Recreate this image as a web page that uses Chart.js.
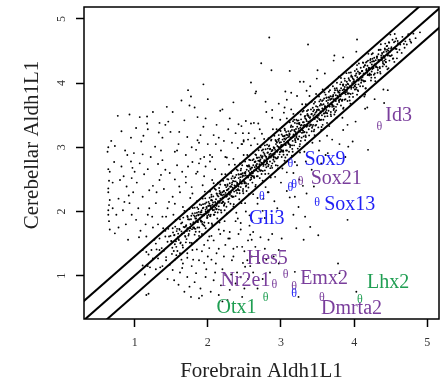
<!DOCTYPE html>
<html>
<head>
<meta charset="utf-8">
<script src="https://cdn.jsdelivr.net/npm/chart.js@4.4.0/dist/chart.umd.min.js"></script>
<style>
  html, body { margin: 0; padding: 0; background: #fff; }
  #wrap { width: 443px; height: 385px; }
</style>
</head>
<body>
<div id="wrap"><canvas id="scatter" width="443" height="385"></canvas></div>
<script>
// Probe expression values: [forebrain, cerebellar]
const diagonalBand = [
  [1.11,1.16],[1.14,1.02],[1.16,1.37],[1.18,1.15],[1.19,1.33],
  [1.21,1.13],[1.23,1.40],[1.25,1.27],[1.27,1.56],[1.29,1.10],
  [1.30,1.41],[1.32,1.27],[1.34,1.58],[1.35,1.13],[1.37,1.43],[1.39,1.74],
  [1.40,1.39],[1.42,1.61],[1.43,1.29],[1.45,1.53],[1.46,1.73],[1.48,1.17],[1.49,1.62],
  [1.50,1.54],[1.51,1.34],[1.52,1.74],[1.54,1.63],[1.55,1.49],[1.56,1.87],[1.57,1.32],[1.58,1.73],[1.59,1.60],[1.53,1.95],
  [1.60,1.57],[1.61,1.73],[1.62,1.88],[1.63,1.52],[1.64,1.69],[1.65,1.83],[1.66,1.44],[1.67,1.76],[1.68,2.01],[1.69,1.62],[1.64,1.25],
  [1.70,1.77],[1.71,1.57],[1.72,1.93],[1.72,1.74],[1.73,1.88],[1.74,1.65],[1.75,2.04],[1.76,1.74],[1.77,1.88],[1.78,1.51],[1.79,1.97],[1.76,2.21],
  [1.80,1.75],[1.81,1.94],[1.82,2.06],[1.82,1.64],[1.83,1.89],[1.84,1.85],[1.85,2.16],[1.86,1.75],[1.87,2.04],[1.87,1.95],[1.88,1.62],[1.89,2.11],[1.85,1.41],
  [1.90,1.99],[1.91,1.84],[1.91,2.10],[1.92,1.95],[1.93,2.20],[1.94,1.79],[1.94,2.06],[1.95,1.94],[1.96,2.31],[1.97,2.03],[1.97,1.74],[1.98,2.14],[1.99,1.90],[1.93,2.41],
  [2.00,1.98],[2.01,2.15],[2.01,1.82],[2.02,2.09],[2.03,2.31],[2.04,1.95],[2.04,2.07],[2.05,2.26],[2.06,1.79],[2.06,2.17],[2.07,2.02],[2.08,2.44],[2.08,2.08],[2.09,1.95],[2.05,2.23],[2.02,1.61],
  [2.10,2.15],[2.10,1.99],[2.11,2.34],[2.12,2.09],[2.12,2.28],[2.13,1.89],[2.14,2.45],[2.14,2.16],[2.15,2.08],[2.16,2.28],[2.16,1.83],[2.17,2.42],[2.18,2.02],[2.18,2.26],[2.19,2.58],[2.13,2.12],[2.17,1.65],
  [2.20,2.14],[2.20,2.30],[2.21,2.48],[2.22,2.09],[2.22,2.26],[2.23,2.02],[2.24,2.41],[2.24,2.58],[2.25,2.23],[2.26,2.33],[2.26,1.97],[2.27,2.40],[2.28,2.50],[2.28,2.19],[2.29,2.30],[2.29,2.73],[2.23,1.85],[2.27,2.42],
  [2.30,2.28],[2.30,2.44],[2.31,2.12],[2.32,2.39],[2.32,2.60],[2.33,2.24],[2.34,2.37],[2.34,2.55],[2.35,2.08],[2.36,2.47],[2.36,2.31],[2.37,2.73],[2.38,2.38],[2.38,2.24],[2.39,2.57],[2.39,1.98],[2.33,2.42],[2.35,2.82],
  [2.40,2.45],[2.40,2.29],[2.41,2.64],[2.42,2.39],[2.42,2.58],[2.43,2.19],[2.44,2.75],[2.44,2.46],[2.45,2.38],[2.46,2.58],[2.46,2.13],[2.47,2.72],[2.48,2.32],[2.48,2.56],[2.49,2.88],[2.49,2.48],[2.41,1.89],[2.45,2.64],[2.47,3.05],
  [2.50,2.44],[2.50,2.60],[2.51,2.78],[2.52,2.39],[2.52,2.56],[2.53,2.32],[2.54,2.71],[2.54,2.88],[2.55,2.53],[2.56,2.63],[2.56,2.27],[2.57,2.70],[2.58,2.80],[2.58,2.49],[2.59,2.60],[2.59,3.03],[2.51,2.13],[2.55,2.70],[2.57,1.94],
  [2.60,2.68],[2.60,2.56],[2.61,2.80],[2.61,2.45],[2.62,2.92],[2.63,2.64],[2.63,2.55],[2.64,2.77],[2.65,2.89],[2.65,2.39],[2.66,2.72],[2.67,2.55],[2.67,2.84],[2.68,3.05],[2.69,2.68],[2.69,2.79],[2.62,2.27],[2.64,3.14],[2.66,2.88],[2.68,2.21],
  [2.70,2.68],[2.70,2.84],[2.71,2.52],[2.71,2.78],[2.72,3.00],[2.73,2.64],[2.73,2.76],[2.74,2.95],[2.75,2.48],[2.75,2.86],[2.76,2.71],[2.77,3.13],[2.77,2.77],[2.78,2.64],[2.79,2.97],[2.79,2.38],[2.72,2.81],[2.74,3.21],[2.76,2.20],[2.78,3.03],
  [2.80,2.85],[2.80,2.69],[2.81,3.04],[2.81,2.78],[2.82,2.98],[2.83,2.59],[2.83,3.14],[2.84,2.86],[2.85,2.78],[2.85,2.97],[2.86,2.53],[2.87,3.12],[2.87,2.71],[2.88,2.96],[2.89,3.28],[2.89,2.88],[2.82,2.30],[2.84,3.03],[2.86,2.90],[2.88,2.68],
  [2.90,2.84],[2.90,3.00],[2.91,3.18],[2.91,2.78],[2.92,2.96],[2.93,2.72],[2.93,3.10],[2.94,3.28],[2.95,2.93],[2.95,3.02],[2.96,2.67],[2.97,3.10],[2.97,3.19],[2.98,2.89],[2.99,3.00],[2.99,3.43],[2.92,2.54],[2.94,3.09],[2.96,2.85],[2.98,3.27],
  [3.00,3.08],[3.00,2.96],[3.01,3.20],[3.01,2.85],[3.02,3.32],[3.03,3.04],[3.03,2.95],[3.04,3.17],[3.05,3.29],[3.05,2.79],[3.06,3.12],[3.07,2.95],[3.07,3.24],[3.08,3.45],[3.09,3.08],[3.09,3.19],[3.02,2.67],[3.04,3.54],[3.06,2.84],[3.08,2.61],
  [3.10,3.07],[3.10,3.25],[3.11,2.93],[3.11,3.17],[3.12,3.39],[3.13,3.03],[3.13,3.15],[3.14,3.34],[3.15,2.87],[3.15,3.27],[3.16,3.10],[3.17,3.52],[3.17,3.18],[3.18,3.03],[3.19,3.38],[3.19,2.77],[3.12,3.20],[3.14,3.59],[3.16,2.93],[3.18,3.43],
  [3.20,3.24],[3.20,3.08],[3.21,3.43],[3.21,3.17],[3.22,3.37],[3.23,2.98],[3.23,3.53],[3.24,3.25],[3.25,3.17],[3.25,3.36],[3.26,2.92],[3.27,3.51],[3.27,3.10],[3.28,3.35],[3.29,3.67],[3.29,3.27],[3.22,2.72],[3.24,3.42],[3.26,3.05],
  [3.30,3.23],[3.30,3.39],[3.31,3.57],[3.31,3.17],[3.32,3.35],[3.33,3.11],[3.33,3.49],[3.34,3.67],[3.35,3.32],[3.35,3.41],[3.36,3.06],[3.37,3.49],[3.37,3.58],[3.38,3.28],[3.39,3.39],[3.39,3.80],[3.32,2.93],[3.34,3.16],[3.36,3.50],
  [3.40,3.47],[3.40,3.35],[3.41,3.59],[3.42,3.25],[3.42,3.71],[3.43,3.43],[3.44,3.35],[3.44,3.56],[3.45,3.68],[3.46,3.19],[3.46,3.51],[3.47,3.34],[3.48,3.64],[3.48,3.83],[3.49,3.47],[3.49,3.58],[3.43,3.07],[3.45,3.25],
  [3.50,3.47],[3.50,3.63],[3.51,3.31],[3.52,3.58],[3.52,3.79],[3.53,3.43],[3.54,3.56],[3.54,3.74],[3.55,3.27],[3.56,3.66],[3.56,3.50],[3.57,3.90],[3.58,3.57],[3.58,3.43],[3.59,3.76],[3.53,3.10],[3.57,3.35],
  [3.60,3.64],[3.60,3.48],[3.61,3.82],[3.62,3.58],[3.62,3.77],[3.63,3.38],[3.64,3.93],[3.64,3.65],[3.65,3.57],[3.66,3.77],[3.66,3.33],[3.67,3.89],[3.68,3.51],[3.68,3.75],[3.69,3.67],[3.63,3.18],
  [3.70,3.63],[3.70,3.79],[3.71,3.95],[3.72,3.58],[3.72,3.75],[3.73,3.51],[3.74,3.89],[3.75,3.72],[3.75,3.81],[3.76,3.46],[3.77,3.89],[3.77,3.67],[3.78,3.78],[3.79,4.10],[3.74,3.55],
  [3.80,3.85],[3.80,3.74],[3.81,3.98],[3.82,3.65],[3.82,4.08],[3.83,3.83],[3.84,3.74],[3.85,3.96],[3.85,3.60],[3.86,3.90],[3.87,3.74],[3.87,4.07],[3.88,3.85],[3.89,3.97],[3.84,3.46],
  [3.90,3.88],[3.90,4.02],[3.91,3.72],[3.92,3.98],[3.93,4.16],[3.93,3.84],[3.94,3.95],[3.95,3.68],[3.96,4.10],[3.96,3.91],[3.97,4.27],[3.98,3.84],[3.99,4.02],[3.94,3.73],
  [4.00,4.03],[4.01,3.90],[4.01,4.19],[4.02,3.98],[4.03,4.15],[4.04,3.82],[4.04,4.28],[4.05,4.05],[4.06,3.98],[4.07,4.16],[4.08,3.78],[4.09,4.24],[4.05,3.89],
  [4.10,4.04],[4.11,4.19],[4.12,3.95],[4.12,4.32],[4.13,4.15],[4.14,4.03],[4.15,4.28],[4.16,3.92],[4.17,4.22],[4.18,4.16],[4.19,4.35],[4.15,3.82],
  [4.20,4.24],[4.21,4.12],[4.22,4.36],[4.23,4.04],[4.24,4.45],[4.25,4.22],[4.26,4.34],[4.27,4.13],[4.28,4.29],[4.29,4.03],[4.24,4.18],
  [4.30,4.25],[4.31,4.41],[4.32,4.16],[4.33,4.36],[4.34,4.52],[4.35,4.25],[4.36,4.15],[4.37,4.43],[4.38,4.36],[4.39,4.26],
  [4.40,4.42],[4.41,4.29],[4.42,4.54],[4.43,4.37],[4.44,4.26],[4.45,4.52],[4.46,4.43],[4.47,4.23],[4.48,4.63],
  [4.50,4.42],[4.51,4.56],[4.53,4.38],[4.54,4.54],[4.55,4.33],[4.56,4.65],[4.58,4.53],[4.59,4.48],
  [4.60,4.62],[4.62,4.52],[4.63,4.60],[4.65,4.47],[4.66,4.72],[4.68,4.61],[4.69,4.55],
  [4.70,4.65],[4.72,4.60],[4.74,4.76],[4.76,4.68],[4.78,4.63],[4.81,4.77],[4.84,4.70]
];

// the darkest part of the band, just around the diagonal
const diagonalCore = [
  [1.505,1.535],[1.515,1.435],[1.525,1.675],[1.535,1.385],[1.545,1.635],[1.555,1.765],[1.565,1.535],[1.575,1.695],[1.585,1.385],[1.595,1.655],
  [1.605,1.555],[1.615,1.715],[1.625,1.505],[1.635,1.815],[1.645,1.655],[1.655,1.475],[1.665,1.905],[1.675,1.665],[1.685,1.755],[1.695,1.605],
  [1.705,1.785],[1.715,1.695],[1.725,1.915],[1.735,1.625],[1.745,1.875],[1.755,1.515],[1.765,1.805],[1.775,1.935],[1.785,1.725],[1.795,2.055],
  [1.805,1.835],[1.815,1.735],[1.825,1.975],[1.835,1.685],[1.845,1.935],[1.855,2.065],[1.865,1.835],[1.875,1.995],[1.885,1.685],[1.895,1.955],
  [1.905,1.855],[1.915,2.015],[1.925,1.805],[1.935,2.115],[1.945,1.955],[1.955,1.775],[1.965,2.205],[1.975,1.965],[1.985,2.055],[1.995,1.905],
  [2.005,2.085],[2.015,1.995],[2.025,2.215],[2.035,1.925],[2.045,2.175],[2.055,1.815],[2.065,2.105],[2.075,2.235],[2.085,2.025],[2.095,2.355],
  [2.105,2.135],[2.115,2.035],[2.125,2.275],[2.135,1.985],[2.145,2.235],[2.155,2.365],[2.165,2.135],[2.175,2.295],[2.185,1.985],[2.195,2.255],
  [2.205,2.155],[2.215,2.315],[2.225,2.105],[2.235,2.415],[2.245,2.255],[2.255,2.075],[2.265,2.505],[2.275,2.265],[2.285,2.355],[2.295,2.205],
  [2.305,2.385],[2.315,2.295],[2.325,2.515],[2.335,2.225],[2.345,2.475],[2.355,2.115],[2.365,2.405],[2.375,2.535],[2.385,2.325],[2.395,2.655],
  [2.405,2.435],[2.415,2.335],[2.425,2.575],[2.435,2.285],[2.445,2.535],[2.455,2.665],[2.465,2.435],[2.475,2.595],[2.485,2.285],[2.495,2.555],
  [2.505,2.455],[2.515,2.615],[2.525,2.405],[2.535,2.715],[2.545,2.555],[2.555,2.375],[2.565,2.805],[2.575,2.565],[2.585,2.655],[2.595,2.505],
  [2.605,2.685],[2.615,2.595],[2.625,2.815],[2.635,2.525],[2.645,2.775],[2.655,2.415],[2.665,2.705],[2.675,2.835],[2.685,2.625],[2.695,2.955],
  [2.705,2.735],[2.715,2.635],[2.725,2.875],[2.735,2.585],[2.745,2.835],[2.755,2.965],[2.765,2.735],[2.775,2.895],[2.785,2.585],[2.795,2.855],
  [2.805,2.755],[2.815,2.915],[2.825,2.705],[2.835,3.015],[2.845,2.855],[2.855,2.675],[2.865,3.105],[2.875,2.865],[2.885,2.955],[2.895,2.805],
  [2.905,2.985],[2.915,2.895],[2.925,3.115],[2.935,2.825],[2.945,3.075],[2.955,2.715],[2.965,3.005],[2.975,3.135],[2.985,2.925],[2.995,3.255],
  [3.005,3.035],[3.015,2.935],[3.025,3.175],[3.035,2.885],[3.045,3.135],[3.055,3.265],[3.065,3.035],[3.075,3.195],[3.085,2.885],[3.095,3.155],
  [3.105,3.055],[3.115,3.215],[3.125,3.005],[3.135,3.315],[3.145,3.155],[3.155,2.975],[3.165,3.405],[3.175,3.165],[3.185,3.255],[3.195,3.105],
  [3.205,3.285],[3.215,3.195],[3.225,3.415],[3.235,3.125],[3.245,3.375],[3.255,3.015],[3.265,3.305],[3.275,3.435],[3.285,3.225],[3.295,3.555],
  [3.305,3.335],[3.315,3.235],[3.325,3.475],[3.335,3.185],[3.345,3.435],[3.355,3.565],[3.365,3.335],[3.375,3.495],[3.385,3.185],[3.395,3.455],
  [3.405,3.355],[3.415,3.515],[3.425,3.305],[3.435,3.615],[3.445,3.455],[3.455,3.275],[3.465,3.705],[3.475,3.465],[3.485,3.555],[3.495,3.405],
  [3.505,3.585],[3.515,3.495],[3.525,3.715],[3.535,3.425],[3.545,3.675],[3.555,3.315],[3.565,3.605],[3.575,3.735],[3.585,3.525],[3.595,3.855],
  [3.605,3.635],[3.615,3.535],[3.625,3.775],[3.635,3.485],[3.645,3.735],[3.655,3.865],[3.665,3.635],[3.675,3.795],[3.685,3.485],[3.695,3.755],
  [3.705,3.655],[3.715,3.815],[3.725,3.605],[3.735,3.915],[3.745,3.755],[3.755,3.575],[3.765,4.005],[3.775,3.765],[3.785,3.855],[3.795,3.705],
  [3.805,3.885],[3.815,3.795],[3.825,4.015],[3.835,3.725],[3.845,3.975],[3.855,3.615],[3.865,3.905],[3.875,4.035],[3.885,3.825],[3.895,4.155],
  [3.905,3.935],[3.915,3.835],[3.925,4.075],[3.935,3.785],[3.945,4.035],[3.955,4.165],[3.965,3.935],[3.975,4.095],[3.985,3.785],[3.995,4.055],
  [4.005,3.955],[4.015,4.115],[4.025,3.905],[4.035,4.215],[4.045,4.055],[4.055,3.875],[4.065,4.305],[4.075,4.065],[4.085,4.155],[4.095,4.005],
  [4.105,4.185],[4.115,4.095],[4.125,4.315],[4.135,4.025],[4.145,4.275],[4.155,3.915],[4.165,4.205],[4.175,4.335],[4.185,4.125],[4.195,4.455],
  [4.205,4.235],[4.215,4.135],[4.225,4.375],[4.235,4.085],[4.245,4.335],[4.255,4.465],[4.265,4.235],[4.275,4.395],[4.285,4.085],[4.295,4.355],
  [4.305,4.255],[4.315,4.415],[4.325,4.205],[4.335,4.515],[4.345,4.355],[4.355,4.175],[4.365,4.605],[4.375,4.365],[4.385,4.455],[4.395,4.305],
  [4.405,4.485],[4.415,4.395],[4.425,4.615],[4.435,4.325],[4.445,4.575],[4.455,4.215],[4.465,4.505],[4.475,4.635],[4.485,4.425],[4.495,4.755],
  [4.505,4.535],[4.515,4.435],[4.525,4.675],[4.535,4.385],[4.545,4.635],[4.555,4.765],[4.565,4.535],[4.575,4.695],[4.585,4.385],[4.595,4.655]
];

// tightest ridge on the diagonal
const diagonalRidge = [
  [1.802,1.82],[1.812,1.75],[1.822,1.92],[1.832,1.73],[1.842,1.89],[1.852,1.98],[1.862,1.84],[1.872,1.94],[1.882,1.75],[1.892,1.89],
  [1.902,1.86],[1.912,1.99],[1.922,1.84],[1.932,2.05],[1.942,1.94],[1.952,1.83],[1.962,2.12],[1.972,2.00],[1.982,2.07],[1.992,1.93],
  [2.002,2.02],[2.012,1.95],[2.022,2.12],[2.032,1.93],[2.042,2.09],[2.052,2.18],[2.062,2.04],[2.072,2.14],[2.082,1.95],[2.092,2.09],
  [2.102,2.06],[2.112,2.19],[2.122,2.04],[2.132,2.25],[2.142,2.14],[2.152,2.03],[2.162,2.32],[2.172,2.20],[2.182,2.27],[2.192,2.13],
  [2.202,2.22],[2.212,2.15],[2.222,2.32],[2.232,2.13],[2.242,2.29],[2.252,2.38],[2.262,2.24],[2.272,2.34],[2.282,2.15],[2.292,2.29],
  [2.302,2.26],[2.312,2.39],[2.322,2.24],[2.332,2.45],[2.342,2.34],[2.352,2.23],[2.362,2.52],[2.372,2.40],[2.382,2.47],[2.392,2.33],
  [2.402,2.42],[2.412,2.35],[2.422,2.52],[2.432,2.33],[2.442,2.49],[2.452,2.58],[2.462,2.44],[2.472,2.54],[2.482,2.35],[2.492,2.49],
  [2.502,2.46],[2.512,2.59],[2.522,2.44],[2.532,2.65],[2.542,2.54],[2.552,2.43],[2.562,2.72],[2.572,2.60],[2.582,2.67],[2.592,2.53],
  [2.602,2.62],[2.612,2.55],[2.622,2.72],[2.632,2.53],[2.642,2.69],[2.652,2.78],[2.662,2.64],[2.672,2.74],[2.682,2.55],[2.692,2.69],
  [2.702,2.66],[2.712,2.79],[2.722,2.64],[2.732,2.85],[2.742,2.74],[2.752,2.63],[2.762,2.92],[2.772,2.80],[2.782,2.87],[2.792,2.73],
  [2.802,2.82],[2.812,2.75],[2.822,2.92],[2.832,2.73],[2.842,2.89],[2.852,2.98],[2.862,2.84],[2.872,2.94],[2.882,2.75],[2.892,2.89],
  [2.902,2.86],[2.912,2.99],[2.922,2.84],[2.932,3.05],[2.942,2.94],[2.952,2.83],[2.962,3.12],[2.972,3.00],[2.982,3.07],[2.992,2.93],
  [3.002,3.02],[3.012,2.95],[3.022,3.12],[3.032,2.93],[3.042,3.09],[3.052,3.18],[3.062,3.04],[3.072,3.14],[3.082,2.95],[3.092,3.09],
  [3.102,3.06],[3.112,3.19],[3.122,3.04],[3.132,3.25],[3.142,3.14],[3.152,3.03],[3.162,3.32],[3.172,3.20],[3.182,3.27],[3.192,3.13],
  [3.202,3.22],[3.212,3.15],[3.222,3.32],[3.232,3.13],[3.242,3.29],[3.252,3.38],[3.262,3.24],[3.272,3.34],[3.282,3.15],[3.292,3.29],
  [3.302,3.26],[3.312,3.39],[3.322,3.24],[3.332,3.45],[3.342,3.34],[3.352,3.23],[3.362,3.52],[3.372,3.40],[3.382,3.47],[3.392,3.33],
  [3.402,3.42],[3.412,3.35],[3.422,3.52],[3.432,3.33],[3.442,3.49],[3.452,3.58],[3.462,3.44],[3.472,3.54],[3.482,3.35],[3.492,3.49],
  [3.502,3.46],[3.512,3.59],[3.522,3.44],[3.532,3.65],[3.542,3.54],[3.552,3.43],[3.562,3.72],[3.572,3.60],[3.582,3.67],[3.592,3.53],
  [3.602,3.62],[3.612,3.55],[3.622,3.72],[3.632,3.53],[3.642,3.69],[3.652,3.78],[3.662,3.64],[3.672,3.74],[3.682,3.55],[3.692,3.69],
  [3.702,3.66],[3.712,3.79],[3.722,3.64],[3.732,3.85],[3.742,3.74],[3.752,3.63],[3.762,3.92],[3.772,3.80],[3.782,3.87],[3.792,3.73],
  [3.802,3.82],[3.812,3.75],[3.822,3.92],[3.832,3.73],[3.842,3.89],[3.852,3.98],[3.862,3.84],[3.872,3.94],[3.882,3.75],[3.892,3.89],
  [3.902,3.86],[3.912,3.99],[3.922,3.84],[3.932,4.05],[3.942,3.94],[3.952,3.83],[3.962,4.12],[3.972,4.00],[3.982,4.07],[3.992,3.93],
  [4.002,4.02],[4.012,3.95],[4.022,4.12],[4.032,3.93],[4.042,4.09],[4.052,4.18],[4.062,4.04],[4.072,4.14],[4.082,3.95],[4.092,4.09],
  [4.102,4.06],[4.112,4.19],[4.122,4.04],[4.132,4.25],[4.142,4.14],[4.152,4.03],[4.162,4.32],[4.172,4.20],[4.182,4.27],[4.192,4.13],
  [4.202,4.22],[4.212,4.15],[4.222,4.32],[4.232,4.13],[4.242,4.29],[4.252,4.38],[4.262,4.24],[4.272,4.34],[4.282,4.15],[4.292,4.29],
  [4.302,4.26],[4.312,4.39],[4.322,4.24],[4.332,4.45],[4.342,4.34],[4.352,4.23],[4.362,4.52],[4.372,4.40],[4.382,4.47],[4.392,4.33],
  [4.402,4.42],[4.412,4.35],[4.422,4.52],[4.432,4.33],[4.442,4.49],[4.452,4.58],[4.462,4.44],[4.472,4.54],[4.482,4.35],[4.492,4.49]
];

const nearBandAbove = [
  [1.55,2.12],[1.62,2.30],[1.70,2.45],[1.78,2.38],[1.86,2.62],[1.95,2.55],[2.03,2.78],[2.10,2.66],
  [2.18,2.95],[2.26,2.84],[2.33,3.07],[2.41,2.99],[2.48,3.22],[2.55,3.12],[2.63,3.38],[2.71,3.28],
  [2.80,3.55],[2.88,3.46],[2.97,3.68],[3.05,3.62],[3.14,3.85],[3.22,3.80],[3.31,4.02],[3.40,3.95],
  [3.50,4.20],[3.60,4.15],[3.72,4.35],[3.85,4.40],[1.45,2.05],[1.38,1.92],[1.25,1.75],[2.22,3.10],[2.52,3.41]
];

const nearBandBelow = [
  [1.80,1.25],[1.92,1.38],[2.00,1.30],[2.08,1.55],[2.15,1.42],[2.22,1.70],[2.30,1.58],[2.38,1.85],
  [2.45,1.72],[2.52,2.00],[2.60,1.86],[2.68,2.12],[2.75,2.01],[2.83,2.30],[2.91,2.16],[3.00,2.45],
  [3.08,2.32],[3.17,2.60],[3.25,2.50],[3.34,2.78],[3.42,2.65],[3.52,2.95],[3.61,2.88],[3.70,3.12],
  [3.80,3.05],[3.91,3.35],[4.02,3.40],[4.15,3.60],[4.28,3.75],[4.40,3.90],[2.35,1.42],[2.58,1.64],
  [2.78,1.90],[2.95,2.05],[3.12,2.22],[3.30,2.40],[1.65,1.12],[1.72,1.28]
];

const cerebellarHighCloud = [
  [0.77,3.49],[0.93,3.51],[1.07,3.47],[1.17,3.48],[1.17,3.37],[1.18,3.28],[1.34,3.38],[1.42,3.35],
  [1.46,3.40],[1.44,3.63],[1.33,3.23],[1.49,3.24],[1.61,3.24],[1.64,3.73],[1.73,3.89],[1.77,3.79],
  [1.75,3.65],[1.94,3.98],[1.86,3.47],[1.97,3.45],[1.94,3.32],[2.17,3.57],[2.20,3.59],[1.72,3.16],
  [1.90,3.19],[1.09,3.09],[1.28,3.01],[1.55,2.93],[0.64,3.00],[0.63,2.93],[0.73,3.02],[0.87,2.95],
  [0.99,2.91],[1.11,2.89],[0.95,2.78],[1.07,2.75],[0.72,2.77],[0.64,2.66],[0.66,2.62],[1.18,2.66],
  [1.32,2.74],[1.36,2.57],[0.85,2.55],[0.96,2.52],[1.86,3.11],[1.88,3.07],[2.08,3.19],[2.11,3.05],
  [2.06,2.85],[2.03,2.88],[1.95,2.85],[1.90,2.82],[1.84,2.96],[1.70,2.88],[1.79,2.77],[1.73,2.70],
  [2.24,2.85],[2.38,3.22],[2.42,3.36],[2.59,4.01],[2.65,3.84],[2.59,3.37],[2.49,3.11],[2.46,3.05],
  [0.64,2.36],[0.64,2.30],[0.66,2.18],[0.65,2.10],[0.64,2.02],[0.65,1.85],[0.66,1.72],[0.64,1.95],
  [0.65,2.48],[0.80,2.49],[0.89,2.39],[0.93,2.13],[0.84,2.02],[1.02,1.87],[1.11,2.23],[1.20,2.33],
  [1.34,2.49],[1.29,2.13],[1.43,1.92],[1.52,2.23],[1.61,2.39],[1.66,2.07],[1.70,2.54],[1.79,2.28],
  [1.84,2.59],[1.97,2.70],[2.06,2.49],[0.73,1.66],[0.91,1.56],[1.16,1.61],[1.29,1.50],[1.11,1.40],
  [0.78,2.20],[0.98,2.30],[1.05,2.05],[1.24,1.92],[1.40,2.35],[1.48,2.60],[1.58,2.72],[0.88,1.80],
  [0.75,1.95],[1.00,2.62],[1.15,1.80],[1.38,2.80],[1.25,2.40],[1.55,2.50],[0.70,2.45],[0.92,2.25],
  [1.08,1.70],[1.20,2.05],
  [0.68,3.10],[0.82,3.25],[0.95,3.15],[1.02,3.30],[1.25,3.55],[1.38,3.15],[1.52,3.55],[1.60,3.05],
  [1.68,3.42],[1.82,3.62],[2.00,3.75],[2.12,3.35],[2.30,3.45],[2.35,3.70],[0.70,2.05],[0.82,2.70],
  [0.90,2.88],[1.03,2.45],[1.13,2.58],[1.22,2.85],[1.30,2.30],[1.42,2.65],[1.47,2.15],[1.58,2.95],
  [1.65,2.62],[1.78,3.00],[1.88,2.75],[2.00,3.05],[2.15,3.15],[2.28,3.28],[0.86,2.15],[0.96,1.95],
  [1.06,1.60],[1.18,1.95],[1.32,1.80],[1.42,1.70],[0.78,1.75],[0.97,2.68],[1.12,3.18],[1.36,2.95]
];

const upperRightCloud = [
  [2.84,4.71],[3.37,4.60],[4.04,4.68],[3.73,4.43],[4.03,4.49],[4.90,4.79],[2.73,4.31],[2.87,4.20],
  [3.12,4.19],[3.26,4.02],[3.49,4.07],[2.66,3.87],[3.06,3.87],[2.79,3.71],[3.08,3.74],[3.35,3.88],
  [2.88,3.58],[2.69,3.37],[2.46,3.33],[2.56,3.22],[2.49,3.09],[4.46,3.89],[4.41,3.69],[4.18,3.62],
  [4.14,3.79],[4.77,4.65]
];

const lowerRightCloud = [
  [4.19,2.96],[3.98,3.09],[3.85,3.27],[3.92,3.01],[3.88,2.85],[3.64,2.91],[3.55,2.75],[3.91,1.87],
  [3.51,1.63],[3.78,1.19],[3.40,1.76],[3.33,1.92],[3.21,1.74],[3.31,1.56],[3.01,1.58],[2.83,1.56],
  [2.97,1.40],[3.24,2.07],[3.17,1.95],[3.35,2.28],[3.45,2.39],[3.19,2.23],[3.80,1.04],[4.03,0.75],
  [3.19,1.06],[3.24,0.67],[2.97,1.19],[2.47,0.67],[2.54,1.24]
];

const forebrainHighCloud = [
  [1.16,0.70],[1.19,0.72],[1.54,0.93],[1.60,0.86],[1.75,0.83],[1.77,0.67],[1.88,0.65],[1.92,0.69],
  [2.04,0.75],[2.15,0.70],[2.27,0.62],[1.52,1.09],[1.72,0.98],[1.84,1.04],[1.97,0.98],[2.08,0.93],
  [2.24,1.01],[2.38,0.88],[1.43,1.24],[1.66,1.19],[1.88,1.24],[2.11,1.19],[2.33,1.24],[2.51,1.14],
  [2.60,1.30],[1.34,1.40],[1.57,1.45],[1.79,1.40],[2.02,1.43],[2.24,1.48],[2.47,1.45],[2.60,1.56],
  [1.47,1.61],[1.62,1.35],[1.70,1.52],[1.85,1.55],[1.95,1.20],[2.05,1.62],[2.12,1.35],[2.20,1.10],
  [2.28,1.58],[2.35,1.30],[2.42,1.65],[2.50,1.38],[2.57,1.78],[2.65,1.45],[2.70,1.20],[2.40,1.05],
  [2.18,0.85],[1.98,1.10],[1.82,0.90],[2.55,0.95],[2.68,0.80],[2.30,0.78],[1.68,0.75],[1.45,0.95],
  [1.38,1.15],[2.85,1.05],[2.90,1.30],[2.78,1.42],[2.62,1.68],[2.45,1.82],[2.15,1.72],[1.92,1.65],
  [1.75,1.70],
  [1.62,1.05],[1.78,1.15],[1.90,0.80],[2.00,1.55],[2.10,1.05],[2.22,1.30],[2.32,1.02],[2.40,1.45],
  [2.48,1.20],[2.55,1.55],[2.62,1.05],[2.72,1.60],[2.80,1.25],[2.88,1.65],[2.50,0.80],[2.20,0.60],
  [1.95,1.48],[1.72,1.35],[2.05,1.25],[2.30,1.68],[2.58,1.15],[2.75,0.95],[1.55,1.25],[2.45,0.98]
];

// Marked genes (empty name = unlabelled marker)
const geneNames      = ['Id3', 'Sox9', 'Sox21', '', '', 'Sox13', 'Gli3', 'Hes5', 'Nr2e1', 'Emx2', '', 'Lhx2', 'Otx1', 'Dmrta2'];
const geneForebrain  = [4.345, 3.13, 3.27, 3.13, 3.18, 3.495, 2.74, 3.065, 2.91, 3.18, 3.18, 4.08, 2.79, 3.56];
const geneCerebellar = [3.32, 2.74, 2.46, 2.37, 2.41, 2.14, 2.23, 1.01, 0.855, 0.83, 0.725, 0.63, 0.66, 0.65];
const geneGroup      = ['purple', 'blue', 'purple', 'blue', 'blue', 'blue', 'blue', 'purple', 'purple', 'purple', 'blue', 'green', 'green', 'purple'];

const xTicks = [1, 2, 3, 4, 5];
const yTicks = [1, 2, 3, 4, 5];
const lineOffsets = [-0.3, 0, 0.3];

// styling
const groupColors = { purple: '#7a3e9c', blue: '#1f1ff5', green: '#1f9e52' };
// label placement relative to the marker, in pixels
const labelPlacement = {
  'Id3':    { dx: 6,   dy: -11, align: 'left' },
  'Sox9':   { dx: 14,  dy: -4,  align: 'left' },
  'Sox21':  { dx: 10,  dy: -3,  align: 'left' },
  'Sox13':  { dx: 7,   dy: 2,   align: 'left' },
  'Gli3':   { dx: -13, dy: 22,  align: 'left' },
  'Hes5':   { dx: -39, dy: -16, align: 'left' },
  'Nr2e1':  { dx: -4,  dy: -4,  align: 'right' },
  'Emx2':   { dx: 6,   dy: -8,  align: 'left' },
  'Lhx2':   { dx: 7,   dy: -17, align: 'left' },
  'Otx1':   { dx: -9,  dy: 10,  align: 'right' },
  'Dmrta2': { dx: -1,  dy: 11,  align: 'left' }
};
const serif = "'Liberation Serif', 'Times New Roman', serif";

const probes = [].concat(diagonalBand, diagonalCore, diagonalRidge, nearBandAbove, nearBandBelow,
  cerebellarHighCloud, upperRightCloud, lowerRightCloud, forebrainHighCloud).map(p => ({ x: p[0], y: p[1] }));

const xMin = 0.308, xMax = 5.16, yMin = 0.326, yMax = 5.185;

const lineDatasets = lineOffsets.map(off => ({
  type: 'line',
  data: [{ x: 0, y: off }, { x: 6, y: 6 + off }],
  borderColor: '#000',
  borderWidth: 2,
  pointRadius: 0,
  fill: false
}));

const genePoints = geneNames.map((name, i) => ({ x: geneForebrain[i], y: geneCerebellar[i] }));

const geneLabels = {
  id: 'geneLabels',
  afterDatasetsDraw(chart) {
    const meta = chart.getDatasetMeta(chart.data.datasets.length - 1);
    const ctx = chart.ctx;
    ctx.save();
    meta.data.forEach((el, i) => {
      const color = groupColors[geneGroup[i]];
      ctx.fillStyle = color;
      ctx.font = '12px ' + serif;
      ctx.textAlign = 'center';
      ctx.textBaseline = 'middle';
      ctx.fillText('θ', el.x, el.y);
      const name = geneNames[i];
      if (name) {
        const pl = labelPlacement[name];
        ctx.font = '20px ' + serif;
        ctx.textAlign = pl.align;
        ctx.fillText(name, el.x + pl.dx, el.y + pl.dy);
      }
    });
    ctx.restore();
  }
};

// plot frame + y axis title (sits a bit above the middle of the plot, as in the original)
const frameBox = {
  id: 'frameBox',
  afterDraw(chart) {
    const a = chart.chartArea;
    const ctx = chart.ctx;
    ctx.save();
    ctx.strokeStyle = '#000';
    ctx.lineWidth = 1.5;
    ctx.strokeRect(a.left, a.top, a.right - a.left, a.bottom - a.top);
    ctx.translate(32, a.top + (a.bottom - a.top) / 2 - 18);
    ctx.rotate(-Math.PI / 2);
    ctx.fillStyle = '#222';
    ctx.font = '21px ' + serif;
    ctx.textAlign = 'center';
    ctx.textBaseline = 'middle';
    ctx.fillText('Cerebellar Aldh1L1', 0, 0);
    ctx.restore();
  }
};

new Chart(document.getElementById('scatter'), {
  type: 'scatter',
  data: {
    datasets: [
      ...lineDatasets,
      {
        data: probes,
        pointRadius: 0.95,
        pointBackgroundColor: '#000',
        pointBorderWidth: 0
      },
      {
        data: genePoints,
        pointRadius: 0
      }
    ]
  },
  options: {
    responsive: false,
    animation: false,
    layout: { padding: { left: 0, top: 7, right: 1, bottom: 0 } },
    plugins: { legend: { display: false }, tooltip: { enabled: false } },
    scales: {
      x: {
        type: 'linear',
        min: xMin,
        max: xMax,
        afterBuildTicks: scale => { scale.ticks = xTicks.map(v => ({ value: v })); },
        afterFit: scale => { scale.height = 66; scale.paddingLeft = 0; scale.paddingRight = 0; },
        border: { display: false },
        grid: { drawOnChartArea: false, drawTicks: true, tickLength: 8, tickColor: '#000', tickWidth: 1.5 },
        ticks: { color: '#333', padding: 9, font: { family: serif, size: 12 }, maxRotation: 0 },
        title: { display: true, text: 'Forebrain Aldh1L1', color: '#222', font: { family: serif, size: 21 }, padding: { top: 0, bottom: 1 } }
      },
      y: {
        type: 'linear',
        min: yMin,
        max: yMax,
        afterBuildTicks: scale => { scale.ticks = yTicks.map(v => ({ value: v })); },
        afterFit: scale => { scale.width = 84; scale.paddingTop = 0; scale.paddingBottom = 0; },
        border: { display: false },
        grid: { drawOnChartArea: false, drawTicks: true, tickLength: 8, tickColor: '#000', tickWidth: 1.5 },
        ticks: { color: '#333', padding: 11, crossAlign: 'center', minRotation: 90, maxRotation: 90, font: { family: serif, size: 12 } }
      }
    }
  },
  plugins: [geneLabels, frameBox]
});
</script>
</body>
</html>
